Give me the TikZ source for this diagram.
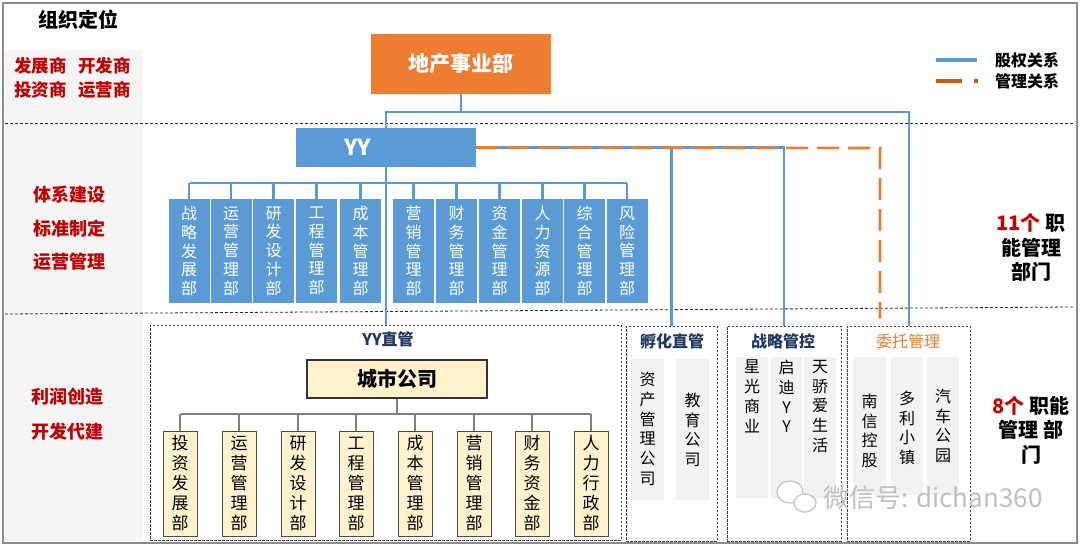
\documentclass[tikz,border=0pt]{standalone}
\usepackage{fontspec}
\setmainfont{Noto Sans CJK SC}
\usetikzlibrary{calc}
\definecolor{cblue}{HTML}{5B9BD5}
\definecolor{corange}{HTML}{ED7D31}
\definecolor{cdorange}{HTML}{C55A11}
\definecolor{cred}{HTML}{C00000}
\definecolor{cnavy}{HTML}{1F3864}
\definecolor{cbeige}{HTML}{FFF2CC}
\definecolor{cpanel}{HTML}{F5F5F5}
\definecolor{cgpanel}{HTML}{F2F2F2}
\begin{document}
\begin{tikzpicture}[x=1pt,y=-1pt,
  bluebox/.style={fill=cblue, minimum width=41pt, minimum height=104pt, inner sep=0pt,
    text=white, align=center, font=\fontsize{16}{18.7}\selectfont},
  beigebox/.style={fill=cbeige, draw=black!70, line width=0.8pt, minimum width=34pt,
    minimum height=105pt, inner sep=0pt, align=center, font=\fontsize{17}{20}\selectfont},
  graypanel/.style={fill=cgpanel, minimum width=33pt, minimum height=141pt, inner sep=0pt},
  vtext/.style={align=center, inner sep=0pt, font=\fontsize{16}{19.7}\selectfont},
  dashbox/.style={draw=black!75, line width=0.8pt, dash pattern=on 2.5pt off 1.5pt, inner sep=0pt},
  sep/.style={draw=black!85, line width=0.8pt, dash pattern=on 3pt off 2pt},
  eq/.style={draw=cblue, line width=2.6pt},
  mg/.style={draw=corange, line width=2.6pt, dash pattern=on 22pt off 9pt},
  cityline/.style={draw=black!50, line width=1.3pt},
  redtext/.style={text=cred, align=center, inner sep=0pt, font=\bfseries\fontsize{18}{33.5}\selectfont},
  grouplabel/.style={text=cnavy, inner sep=0pt, font=\bfseries\fontsize{16}{18}\selectfont},
  sidetext/.style={align=center, inner sep=0pt, font=\bfseries\fontsize{20}{24.5}\selectfont}
]
\useasboundingbox (0,0) rectangle (1080,546);
% frame and left panel
\fill[white] (0,0) rectangle (1080,546);
\fill[cpanel] (5,50) rectangle (142,541);
\draw[black!45, line width=1.5pt] (3,3) rectangle (1077,543);
% separators
\draw[sep] (5,123) -- (1075,123);
\draw[sep] (5,314) -- (1075,307);

% titles / left texts
\node[inner sep=0pt, font=\bfseries\fontsize{20}{24}\selectfont] (title) at (78,20) {组织定位};
\node[redtext, font=\bfseries\fontsize{17.5}{24}\selectfont] (roles) at (72.5,78) {发展商\hspace{12pt}开发商\\投资商\hspace{12pt}运营商};
\node[redtext] (sys) at (69.5,228.5) {体系建设\\标准制定\\运营管理};
\node[redtext, font=\bfseries\fontsize{18}{35}\selectfont] (profit) at (67,414.5) {利润创造\\开发代建};

% legend
\coordinate (lg1a) at (936,60); \coordinate (lg1b) at (977,60);
\draw[draw=cblue, line width=4pt] (lg1a) -- (lg1b);
\node[inner sep=0pt, font=\bfseries\fontsize{16}{18}\selectfont] (lgt1) at (1027,60) {股权关系};
\coordinate (lg2a) at (936,81); \coordinate (lg2b) at (962,81);
\draw[draw=cdorange, line width=4pt] (lg2a) -- (lg2b);
\fill[cdorange] (974,79) rectangle (978,83);
\node[inner sep=0pt, font=\bfseries\fontsize{16}{18}\selectfont] (lgt2) at (1027,81) {管理关系};

% main boxes
\node[fill=corange, minimum width=180pt, minimum height=60pt, inner sep=0pt, text=white,
  font=\bfseries\fontsize{21}{24}\selectfont] (dc) at (461,64) {地产事业部};
\node[fill=cblue, minimum width=180pt, minimum height=39pt, inner xsep=0pt, inner ysep=0pt,
  text width=180pt, align=left, text=white, font=\bfseries\fontsize{22}{24}\selectfont] (yy) at (386,147.5) {\hspace*{48pt}YY};

% group boxes
\node[dashbox, minimum width=471pt, minimum height=215pt] (yyz) at (385.5,432.5) {};
\node[dashbox, minimum width=91pt, minimum height=215pt] (fh) at (671.5,433.5) {};
\node[dashbox, minimum width=114pt, minimum height=215pt] (zl) at (784,433.5) {};
\node[dashbox, minimum width=123pt, minimum height=215pt] (wt) at (908.5,433.5) {};

% equity lines from 地产事业部
\coordinate (j1) at (461,112);
\draw[eq] (dc.south) -- (j1);
\draw[eq] (yy.north) |- (j1) -| (wt.north -| 909,0);
% management dashed line
\coordinate (wtc) at (880,148);
\draw[eq] (yy.east) -- (zl.north |- yy.east) -- (zl.north);
\draw[eq] (fh.north |- yy.east) -- (fh.north);
\draw[mg] (yy.east) -- (wtc) -- ($(wtc |- wt.north)+(0,-7)$);

% YY bus
\coordinate (busL) at (190,183);
\coordinate (busR) at (627,183);
\draw[eq] (busL) -- (busR);
\draw[eq] (yy.south) -- (yy.south |- yyz.north);
\foreach \i/\x/\t in {1/189/{战\\略\\发\\展\\部},2/231/{运\\营\\管\\理\\部},3/273.5/{研\\发\\设\\计\\部},
  4/316.5/{工\\程\\管\\理\\部},5/360.5/{成\\本\\管\\理\\部},6/413.5/{营\\销\\管\\理\\部},
  7/456.5/{财\\务\\管\\理\\部},8/499.5/{资\\金\\管\\理\\部},9/542.5/{人\\力\\资\\源\\部},
  10/584.5/{综\\合\\管\\理\\部},11/627/{风\\险\\管\\理\\部}}{
  \node[bluebox] (b\i) at (\x,251) {\t};
  \draw[eq] (b\i.north) -- (b\i.north |- busL);
}

% YY直管 group
\node[grouplabel] (yyzl) at (388,339) {YY直管};
\node[fill=cbeige, draw=black!80, line width=1.2pt, minimum width=180pt, minimum height=38pt,
  inner sep=0pt, font=\bfseries\fontsize{20}{24}\selectfont] (cs) at (397,379) {城市公司};
\coordinate (cbusL) at (181,414);
\coordinate (cbusR) at (591,414);
\draw[cityline] (cs.south) -- (cs.south |- cbusL);
\draw[cityline] (cbusL) -- (cbusR);
\foreach \i/\x/\t in {1/180/{投\\资\\发\\展\\部},2/239/{运\\营\\管\\理\\部},3/298/{研\\发\\设\\计\\部},
  4/356/{工\\程\\管\\理\\部},5/415/{成\\本\\管\\理\\部},6/474/{营\\销\\管\\理\\部},
  7/532/{财\\务\\资\\金\\部},8/591/{人\\力\\行\\政\\部}}{
  \node[beigebox] (c\i) at (\x,483.5) {\t};
  \draw[cityline] (c\i.north) -- (c\i.north |- cbusL);
}

% 孵化直管
\node[grouplabel] (fhl) at (672,341) {孵化直管};
\node[graypanel] (p1) at (647.5,429.5) {};
\node[graypanel] (p2) at (692.5,429.5) {};
\node[vtext] (p1t) at (647.5,429) {资\\产\\管\\理\\公\\司};
\node[vtext] (p2t) at (692.5,430) {教\\育\\公\\司};

% 战略管控
\node[grouplabel] (zll) at (783,341) {战略管控};
\node[graypanel, minimum width=32pt] (p3) at (752,427.5) {};
\node[graypanel, minimum width=31pt] (p4) at (786.5,427.5) {};
\node[graypanel, minimum width=32pt] (p5) at (820,427.5) {};
\node[vtext, anchor=north] (p3t) at (752,360) {星\\光\\商\\业};
\node[vtext, anchor=north] (p4t) at (786.5,360) {启\\迪\\Y\\Y};
\node[vtext, anchor=north] (p5t) at (820,360) {天\\骄\\爱\\生\\活};

% 委托管理
\node[inner sep=0pt, text=corange, font=\fontsize{16}{18}\selectfont] (wtl) at (908,341) {委托管理};
\node[graypanel, minimum height=138pt] (p6) at (869.5,426) {};
\node[graypanel, minimum width=32pt, minimum height=138pt] (p7) at (907,426) {};
\node[graypanel, minimum width=32pt, minimum height=138pt] (p8) at (943,426) {};
\node[vtext] (p6t) at (869.5,431) {南\\信\\控\\股};
\node[vtext] (p7t) at (907,428) {多\\利\\小\\镇};
\node[vtext] (p8t) at (943,426) {汽\\车\\公\\园};

% side texts
\node[sidetext] (n11) at (1031,247.5) {\textcolor{cred}{11个} 职\\能管理\\部门};
\node[sidetext] (n8) at (1031,430) {\textcolor{cred}{8个} 职能\\管理 部\\门};

% watermark
\draw[black!22, line width=1.3pt, fill=white] (790,492) ellipse (13pt and 11pt);
\draw[black!22, line width=1.3pt, fill=white] (805,503) ellipse (11pt and 9pt);
\node[inner sep=0pt, text=black!25, font=\fontsize{26}{30}\selectfont] (wm) at (933,498) {微信号: dichan360};
\end{tikzpicture}
\end{document}
